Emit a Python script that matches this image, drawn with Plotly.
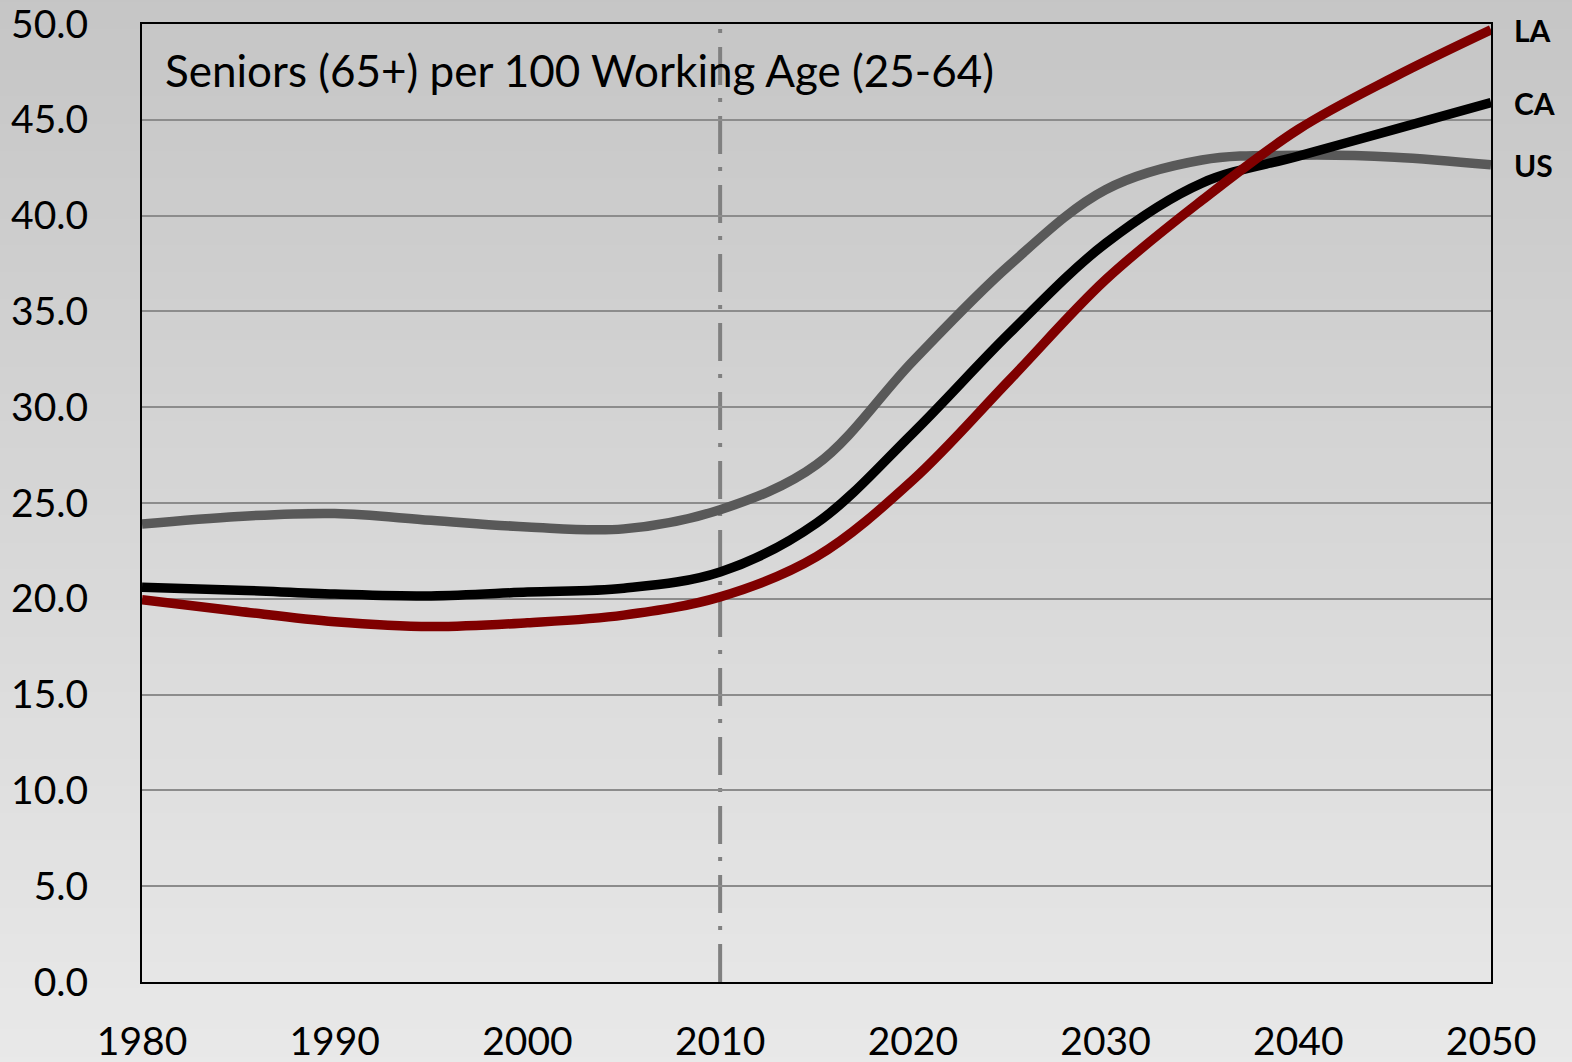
import plotly.graph_objects as go

years = [1980, 1985, 1990, 1995, 2000, 2005, 2010, 2015, 2020, 2025, 2030, 2035, 2040, 2045, 2050]
us = [23.9, 24.3, 24.45, 24.1, 23.75, 23.65, 24.65, 27.0, 32.4, 37.4, 41.35, 42.9, 43.15, 43.05, 42.65]
ca = [20.6, 20.45, 20.25, 20.15, 20.35, 20.55, 21.4, 23.95, 28.65, 33.85, 38.55, 41.7, 43.1, 44.5, 45.9]
la = [19.95, 19.35, 18.8, 18.55, 18.75, 19.15, 20.1, 22.2, 26.2, 31.4, 36.65, 40.8, 44.5, 47.25, 49.7]

series = [("US", us, "#595959"), ("CA", ca, "#000000"), ("LA", la, "#7f0000")]
title_text = "Seniors (65+) per 100 Working Age (25-64)"
x_ticks = [1980, 1990, 2000, 2010, 2020, 2030, 2040, 2050]
y_ticks = [0, 5, 10, 15, 20, 25, 30, 35, 40, 45, 50]
divider_year = 2010

FONT = "Lato"
fig = go.Figure()
for name, vals, col in series:
    fig.add_trace(go.Scatter(x=years, y=vals, mode="lines", name=name, hoverinfo="skip",
                             line=dict(color=col, width=9.5, shape="spline", smoothing=1.0)))

# background gradient bands (paper coords cover whole figure)
W, H = 1572, 1062
ml, mr, mt, mb = 142, 81, 24, 80
pw, ph = W - ml - mr, H - mt - mb
y_top = 1 + mt / ph + 0.01
y_bot = -mb / ph - 0.01
x_left = -ml / pw - 0.01
x_right = 1 + mr / pw + 0.01
n = 80
shapes = []
c_top, c_bot = 197, 233
for i in range(n):
    t0 = i / n
    t1 = (i + 1) / n
    ya = y_top - (y_top - y_bot) * t0
    yb = y_top - (y_top - y_bot) * t1
    c = round(c_top + (c_bot - c_top) * (t0 + t1) / 2)
    shapes.append(dict(type="rect", xref="paper", yref="paper", x0=x_left, x1=x_right,
                       y0=yb - 0.002, y1=ya + 0.002, fillcolor=f"rgb({c},{c},{c})",
                       line=dict(width=0), layer="below"))
shapes.append(dict(type="line", xref="x", yref="paper", x0=divider_year, x1=divider_year, y0=0, y1=1,
                   line=dict(color="#808080", width=4, dash="38px,14px,4px,13px"), layer="between"))

annotations = [dict(text=title_text, xref="paper", yref="paper", x=0.0156, y=0.952,
                    xanchor="left", yanchor="middle", showarrow=False,
                    font=dict(family=FONT, size=44, color="#000000"))]
for name, vals, col in series:
    annotations.append(dict(text=f"<b>{name}</b>", x=years[-1], y=vals[-1], xref="x", yref="y",
                            xanchor="left", yanchor="middle", xshift=21, showarrow=False,
                            font=dict(family=FONT, size=30, color="#000000")))

fig.update_layout(
    width=W, height=H,
    margin=dict(l=ml, r=mr, t=mt, b=mb, autoexpand=False),
    paper_bgcolor="rgb(215,215,215)",
    plot_bgcolor="rgba(0,0,0,0)",
    showlegend=False,
    shapes=shapes,
    annotations=annotations,
    font=dict(family=FONT, size=39, color="#000000"),
)
fig.update_xaxes(range=[1980, 2050], tickvals=x_ticks, ticktext=[str(v) for v in x_ticks],
                 showgrid=False, zeroline=False, showline=True, linecolor="#000000", linewidth=2,
                 mirror=True, ticks="", ticklabelstandoff=24, automargin=False,
                 ticklabeloverflow="allow",
                 tickfont=dict(family=FONT, size=39, color="#000000"))
fig.update_yaxes(range=[0, 50], tickvals=y_ticks, ticktext=[f"{v:.1f}" for v in y_ticks],
                 showgrid=True, gridcolor="#8c8c8c", gridwidth=2, zeroline=False,
                 showline=True, linecolor="#000000", linewidth=2, mirror=True, ticks="",
                 ticklabelstandoff=44, automargin=False, ticklabeloverflow="allow",
                 tickfont=dict(family=FONT, size=39, color="#000000"))

fig.write_html("out.html", config={"displayModeBar": False},
               post_script="document.body.style.margin='0';document.body.style.overflow='hidden';")
